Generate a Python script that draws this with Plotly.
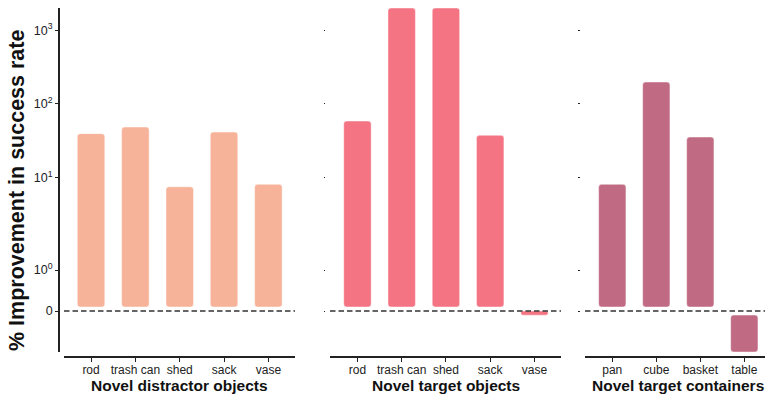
import math
import plotly.graph_objects as go

# ---------------- data ----------------
distractor_labels = ["rod", "trash can", "shed", "sack", "vase"]
distractor_values = [39.5, 48.5, 7.5, 41.5, 8.1]

target_labels = ["rod", "trash can", "shed", "sack", "vase"]
target_values = [58.5, 2000, 2000, 37.5, -0.1]

container_labels = ["pan", "cube", "basket", "table"]
container_values = [8.1, 198, 35.5, -1.0]

panel_titles = ["Novel distractor objects", "Novel target objects", "Novel target containers"]
y_title = "% Improvement in success rate"

ytick_values = [0, 1, 10, 100, 1000]
ytick_labels = ["0", "10<sup>0</sup>", "10<sup>1</sup>", "10<sup>2</sup>", "10<sup>3</sup>"]
y_limits = (-1.0, 2000)

colors = ["#F7B399", "#F47484", "#C06B83"]

# ---------------- symlog scale (linthresh=2, linscale=1) ----------------
LINTHRESH = 2.0
LINSCALE = 1.0 / (1.0 - 1.0 / 10.0)


def symlog(v):
    a = abs(v)
    if a <= LINTHRESH:
        return v / LINTHRESH * LINSCALE
    return math.copysign(LINSCALE + math.log10(a / LINTHRESH), v)


W, H = 765, 396
FONT = "Liberation Sans, Arial, sans-serif"
PAD = 0.055  # small gap between bar and zero line (axis units)

x_domains = [[64 / W, 295 / W], [330 / W, 561 / W], [585 / W, 1.0]]
x_ranges = [[-0.61, 4.6], [-0.62, 4.6], [-0.62, 3.47]]
yaxis_pos = [59 / W, 325 / W, 579.5 / W]
y_domain = [1 - 352 / H, 1 - 8 / H]
xaxis_pos = 1 - 357 / H
title_x = [179.5 / W, 445.5 / W, 678 / W]

panels = [
    (distractor_labels, distractor_values),
    (target_labels, target_values),
    (container_labels, container_values),
]

fig = go.Figure()
yr = [symlog(y_limits[0]), symlog(y_limits[1])]

for i, (labels, values) in enumerate(panels):
    n = i + 1
    xa = "x" if n == 1 else f"x{n}"
    ya = "y" if n == 1 else f"y{n}"
    bases, lengths = [], []
    for v in values:
        t = symlog(v)
        if abs(t) > 2 * PAD:
            b = math.copysign(PAD, t)
        else:
            b = 0.0
        bases.append(b)
        lengths.append(t - b)
    fig.add_trace(go.Bar(
        x=labels, y=lengths, base=bases,
        xaxis=xa, yaxis=ya, width=0.62,
        marker=dict(color=colors[i], cornerradius=3,
                    line=dict(color="rgba(255,255,255,0.55)", width=0.8)),
        showlegend=False, hoverinfo="skip",
    ))
    xkey = "xaxis" if n == 1 else f"xaxis{n}"
    ykey = "yaxis" if n == 1 else f"yaxis{n}"
    yax = dict(
        domain=y_domain, range=yr, anchor="free", position=yaxis_pos[i],
        tickvals=[symlog(v) for v in ytick_values],
        showticklabels=(n == 1),
        showline=(n == 1), linecolor="#222222", linewidth=1.8,
        ticks="outside", ticklen=3 if n == 1 else 1.5, tickwidth=1,
        tickcolor="#222222",
        tickfont=dict(family=FONT, size=12.5, color="#222222"),
        showgrid=False, zeroline=False, fixedrange=True,
    )
    if n == 1:
        yax["ticktext"] = ytick_labels
    fig.update_layout(**{
        xkey: dict(
            domain=x_domains[i], range=x_ranges[i], anchor="free", position=xaxis_pos,
            type="category", showline=True, linecolor="#222222", linewidth=1.8,
            ticks="outside", ticklen=4, tickwidth=1.2, tickcolor="#222222",
            tickfont=dict(family=FONT, size=12, color="#222222"),
            ticklabelstandoff=-2,
            showgrid=False, zeroline=False, fixedrange=True,
        ),
        ykey: yax,
    })
    # dashed zero line
    fig.add_shape(type="line", xref=f"{xa} domain", yref=ya,
                  x0=0, x1=1, y0=symlog(0), y1=symlog(0),
                  line=dict(color="#333333", width=1.5, dash="5.5px,3px"),
                  layer="above")
    fig.add_annotation(text=f"<b>{panel_titles[i]}</b>", xref="paper", yref="paper",
                       x=title_x[i], y=1 - 385 / H, xanchor="center", yanchor="middle",
                       showarrow=False, font=dict(family=FONT, size=15.5, color="#111111"))

fig.add_annotation(text=f"<b>{y_title}</b>", xref="paper", yref="paper",
                   x=17 / W, y=1 - 191 / H, xanchor="center", yanchor="middle",
                   textangle=-90, showarrow=False,
                   font=dict(family=FONT, size=21.5, color="#111111"))

fig.update_layout(
    width=W, height=H, margin=dict(l=0, r=0, t=0, b=0),
    paper_bgcolor="white", plot_bgcolor="white",
    bargap=0.38,
)

fig.write_html(
    "out.html",
    config={"displayModeBar": False},
    post_script="document.body.style.margin='0';document.body.style.overflow='hidden';",
)
